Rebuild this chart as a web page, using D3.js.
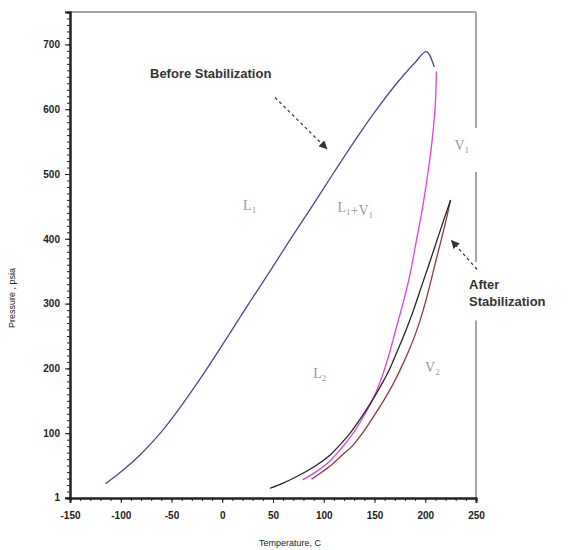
<!DOCTYPE html>
<html>
<head>
<meta charset="utf-8">
<script src="https://cdn.jsdelivr.net/npm/d3@7"></script>
<style>
  body { margin: 0; background: white; }
</style>
</head>
<body>
<div id="container"></div>
<script>
let w = 576;
let h = 550;

// temperature (C), pressure (psia) pairs
let beforeBubbleT = [-115, -100, -80, -60, -40, -20, 0, 22, 45, 65, 88, 109, 130, 150, 172, 190, 201, 209];
let beforeBubbleP = [22, 40, 68, 102, 143, 188, 236, 290, 345, 394, 449, 500, 550, 595, 640, 672, 689, 665];

let beforeDewT = [211, 210, 207, 202, 197, 191, 185, 178, 171, 165, 158, 150, 140, 129, 118, 103, 90, 79];
let beforeDewP = [658, 610, 555, 495, 445, 395, 345, 300, 260, 225, 190, 158, 128, 100, 78, 53, 38, 28];

let afterBubbleT = [47, 60, 72, 84, 96, 106, 116, 126, 136, 146, 155, 164, 172, 180, 188, 196, 204, 211, 218, 225];
let afterBubbleP = [15, 23, 32, 42, 54, 66, 82, 100, 122, 146, 170, 196, 225, 255, 288, 325, 362, 395, 428, 460];

let afterDewT = [88, 99, 109, 118, 128, 139, 150, 160, 168, 176, 184, 191, 198, 204, 210, 216, 221, 225];
let afterDewP = [29, 41, 53, 66, 80, 102, 128, 153, 175, 200, 228, 256, 290, 325, 363, 400, 432, 460];

let xTicks = [-150, -100, -50, 0, 50, 100, 150, 200, 250];
let yTicks = [1, 100, 200, 300, 400, 500, 600, 700];

// phase region labels, placed at (T, P)
let regionLabels = [
  { t: 27, p: 444, parts: [["L", "1"]] },
  { t: 131, p: 441, parts: [["L", "1"], ["+V", "1"]] },
  { t: 236, p: 537, parts: [["V", "1"]] },
  { t: 96, p: 185, parts: [["L", "2"]] },
  { t: 207, p: 194, parts: [["V", "2"]] },
];

let viz = d3.select("#container")
  .append("svg")
  .attr("width", w)
  .attr("height", h)
  .style("background-color", "white");

let xScale = d3.scaleLinear().domain([-150, 250]).range([70, 476]);
let yScale = d3.scaleLinear().domain([0, 750]).range([498, 12]);

// frame: top + right (right has gaps for labels)
viz.append("line")
  .attr("x1", xScale(-150)).attr("x2", xScale(250))
  .attr("y1", yScale(750)).attr("y2", yScale(750))
  .attr("stroke", "#888").attr("stroke-width", 1.5);
let rightSegs = [[750, 571], [503, 364], [274, 0]];
viz.selectAll(".rightSeg").data(rightSegs).enter()
  .append("line")
  .attr("x1", xScale(250)).attr("x2", xScale(250))
  .attr("y1", d => yScale(d[0])).attr("y2", d => yScale(d[1]))
  .attr("stroke", "#888").attr("stroke-width", 1.5);

// x axis
let xAxisGroup = viz.append("g").attr("transform", "translate(0," + yScale(0) + ")");
xAxisGroup.call(d3.axisBottom(xScale).tickValues(d3.range(-150, 251, 10)).tickSize(3).tickFormat(""));
xAxisGroup.append("g").call(d3.axisBottom(xScale).tickValues(xTicks).tickSize(5).tickFormat(d => d).tickPadding(9));
xAxisGroup.selectAll(".domain").attr("stroke", "#222").attr("stroke-width", 2);
xAxisGroup.selectAll("line").attr("stroke", "#222");
xAxisGroup.selectAll("text")
  .attr("font-family", "Arial, 'Liberation Sans', sans-serif")
  .attr("font-size", "10px")
  .attr("font-weight", "bold")
  .attr("fill", "#222");

// y axis
let yAxisGroup = viz.append("g").attr("transform", "translate(" + xScale(-150) + ",0)");
yAxisGroup.call(d3.axisLeft(yScale).tickValues(d3.range(0, 751, 10)).tickSize(3).tickFormat(""));
yAxisGroup.append("g").call(d3.axisLeft(yScale).tickValues(yTicks).tickSize(5).tickFormat(d => d).tickPadding(5));
yAxisGroup.selectAll(".domain").attr("stroke", "#222").attr("stroke-width", 2);
yAxisGroup.selectAll("line").attr("stroke", "#222");
yAxisGroup.selectAll("text")
  .attr("font-family", "Arial, 'Liberation Sans', sans-serif")
  .attr("font-size", "10px")
  .attr("font-weight", "bold")
  .attr("fill", "#222");

// axis titles
viz.append("text")
  .text("Temperature, C")
  .attr("x", 290).attr("y", 546)
  .attr("text-anchor", "middle")
  .attr("font-family", "Arial, 'Liberation Sans', sans-serif")
  .attr("font-size", "9px")
  .attr("fill", "#222");

viz.append("text")
  .text("Pressure , psia")
  .attr("transform", "translate(15,298) rotate(-90)")
  .attr("text-anchor", "middle")
  .attr("font-family", "Arial, 'Liberation Sans', sans-serif")
  .attr("font-size", "9px")
  .attr("fill", "#222");

// curves (dew line before stabilization is monotone in P, the rest in T)
let lineX = d3.line()
  .x(d => xScale(d[0]))
  .y(d => yScale(d[1]))
  .curve(d3.curveMonotoneX);
let lineY = d3.line()
  .x(d => xScale(d[0]))
  .y(d => yScale(d[1]))
  .curve(d3.curveMonotoneY);

let curves = [
  { t: beforeBubbleT, p: beforeBubbleP, color: "#4a4a8c", gen: lineX },
  { t: beforeDewT, p: beforeDewP, color: "#e23ee2", gen: lineY },
  { t: afterDewT, p: afterDewP, color: "#8a3c3c", gen: lineX },
  { t: afterBubbleT, p: afterBubbleP, color: "#1e2a1e", gen: lineX },
];

viz.selectAll(".curve").data(curves).enter()
  .append("path")
  .attr("class", "curve")
  .attr("d", d => d.gen(d.t.map((t, i) => [t, d.p[i]])))
  .attr("fill", "none")
  .attr("stroke", d => d.color)
  .attr("stroke-width", 1.3);

// region labels
regionLabels.forEach(lab => {
  let txt = viz.append("text")
    .attr("x", xScale(lab.t)).attr("y", yScale(lab.p))
    .attr("text-anchor", "middle")
    .attr("font-family", "'Liberation Serif', 'DejaVu Serif', serif")
    .attr("font-size", "14px")
    .attr("fill", "#9a9a9a");
  lab.parts.forEach(part => {
    txt.append("tspan").text(part[0]).attr("dy", 0);
    txt.append("tspan").text(part[1]).attr("font-size", "9px").attr("dy", 3);
    txt.append("tspan").text("").attr("dy", -3);
  });
});

// annotations
let defs = viz.append("defs");
defs.append("marker")
  .attr("id", "arrow")
  .attr("viewBox", "0 0 10 10")
  .attr("refX", 9).attr("refY", 5)
  .attr("markerWidth", 7).attr("markerHeight", 7)
  .attr("orient", "auto")
  .append("path")
  .attr("d", "M0,0 L10,5 L0,10 z")
  .attr("fill", "#333");

let arrows = [
  { from: [52, 618], to: [103, 539] },
  { from: [251, 353], to: [226, 397] },
];
viz.selectAll(".arrow").data(arrows).enter()
  .append("line")
  .attr("x1", d => xScale(d.from[0])).attr("y1", d => yScale(d.from[1]))
  .attr("x2", d => xScale(d.to[0])).attr("y2", d => yScale(d.to[1]))
  .attr("stroke", "#333")
  .attr("stroke-width", 1.2)
  .attr("stroke-dasharray", "3,3")
  .attr("marker-end", "url(#arrow)");

viz.append("text")
  .text("Before Stabilization")
  .attr("x", 150).attr("y", 78)
  .attr("font-family", "Arial, 'Liberation Sans', sans-serif")
  .attr("font-size", "13px")
  .attr("font-weight", "bold")
  .attr("fill", "#333");

let after = viz.append("text")
  .attr("x", 469).attr("y", 289)
  .attr("font-family", "Arial, 'Liberation Sans', sans-serif")
  .attr("font-size", "13px")
  .attr("font-weight", "bold")
  .attr("fill", "#333");
after.append("tspan").text("After").attr("x", 469);
after.append("tspan").text("Stabilization").attr("x", 469).attr("dy", 17);
</script>
</body>
</html>
